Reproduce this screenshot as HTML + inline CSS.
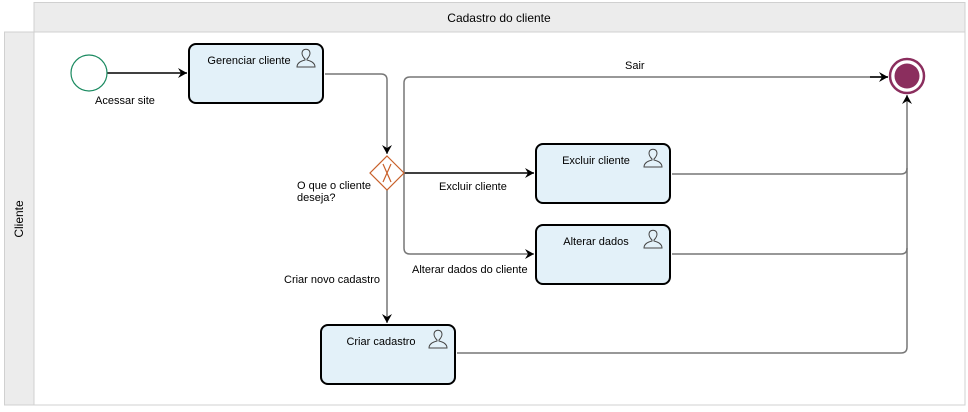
<!DOCTYPE html>
<html><head><meta charset="utf-8"><style>
html,body{margin:0;padding:0;background:#fff;}
svg{display:block;font-family:"Liberation Sans",sans-serif;}
</style></head><body>
<svg width="968" height="412" viewBox="0 0 968 412" xmlns="http://www.w3.org/2000/svg">
<defs>
<marker id="a" markerWidth="12" markerHeight="12" refX="10" refY="6" orient="auto" markerUnits="userSpaceOnUse">
<path d="M1,1 L10,6 L1,11 L4,6 Z" fill="#000"/>
</marker>
<g id="u" fill="none" stroke="#444" stroke-width="1">
<path d="M-4,-7 C-4,-12 4,-12 4,-7 C4,-4 2,-2 1,-1 L1,0 C5,1 9,3 9,7 L-9,7 C-9,3 -5,1 -1,0 L-1,-1 C-2,-2 -4,-4 -4,-7 Z"/>
</g>
</defs>
<rect x="34" y="2.5" width="931" height="29.5" fill="#ececec" stroke="#d0d0d0"/>
<rect x="4.5" y="32" width="29.5" height="373" fill="#ececec" stroke="#d0d0d0"/>
<rect x="34" y="32" width="931" height="373" fill="#fff" stroke="#d0d0d0"/>
<text x="499" y="22" font-size="12" text-anchor="middle" fill="#000">Cadastro do cliente</text>
<text transform="translate(23,219) rotate(-90)" font-size="12" text-anchor="middle" fill="#000">Cliente</text>

<g fill="none" stroke-width="1.5">
<path d="M107,73 H187" stroke="#000" marker-end="url(#a)"/>
<path d="M325,74 H381 Q387,74 387,80 V154" stroke="#777" marker-end="url(#a)"/>
<path d="M404,173 H534" stroke="#000" marker-end="url(#a)"/>
<path d="M404,173 V83 Q404,77 410,77 H888" stroke="#777"/>
<path d="M870,77 H888" stroke="#000" marker-end="url(#a)"/>
<path d="M404,173 V248 Q404,254 410,254 H534" stroke="#777" marker-end="url(#a)"/>
<path d="M387,190 V323" stroke="#777" marker-end="url(#a)"/>
<path d="M672,174 H901 Q907,174 907,168" stroke="#777"/>
<path d="M672,254 H901 Q907,254 907,248" stroke="#777"/>
<path d="M457,353 H901 Q907,353 907,347 V95" stroke="#777" marker-end="url(#a)"/>
</g>

<circle cx="89" cy="73" r="18" fill="#fff" stroke="#1a8a60" stroke-width="1.2"/>
<text x="95" y="104" font-size="11">Acessar site</text>

<g stroke="#000" stroke-width="2" fill="#e3f1f9">
<rect x="189" y="44" width="134" height="59" rx="7"/>
<rect x="536" y="144" width="134" height="59" rx="7"/>
<rect x="536" y="225" width="134" height="59" rx="7"/>
<rect x="321" y="325" width="134" height="59" rx="7"/>
</g>
<g font-size="11" fill="#000" text-anchor="middle">
<text x="249" y="64">Gerenciar cliente</text>
<text x="596" y="164">Excluir cliente</text>
<text x="596" y="245">Alterar dados</text>
<text x="381" y="345">Criar cadastro</text>
</g>
<use href="#u" x="306" y="60"/>
<use href="#u" x="653" y="160"/>
<use href="#u" x="653" y="241"/>
<use href="#u" x="438" y="341"/>

<path d="M387,156 L404,173 L387,190 L370,173 Z" fill="#fff" stroke="#c8602a" stroke-width="1.2"/>
<path d="M383,164 L391,182 M391,164 L383,182" stroke="#c8602a" stroke-width="1.2"/>
<text x="297" y="189" font-size="11">O que o cliente</text>
<text x="297" y="201" font-size="11">deseja?</text>

<g font-size="11" fill="#000">
<text x="625" y="69">Sair</text>
<text x="439" y="190">Excluir cliente</text>
<text x="412" y="273">Alterar dados do cliente</text>
<text x="284" y="283">Criar novo cadastro</text>
</g>

<circle cx="907" cy="76" r="17" fill="#fff" stroke="#8b2e5e" stroke-width="2.5"/>
<circle cx="907" cy="76" r="12.5" fill="#8b2e5e"/>
</svg>
</body></html>
